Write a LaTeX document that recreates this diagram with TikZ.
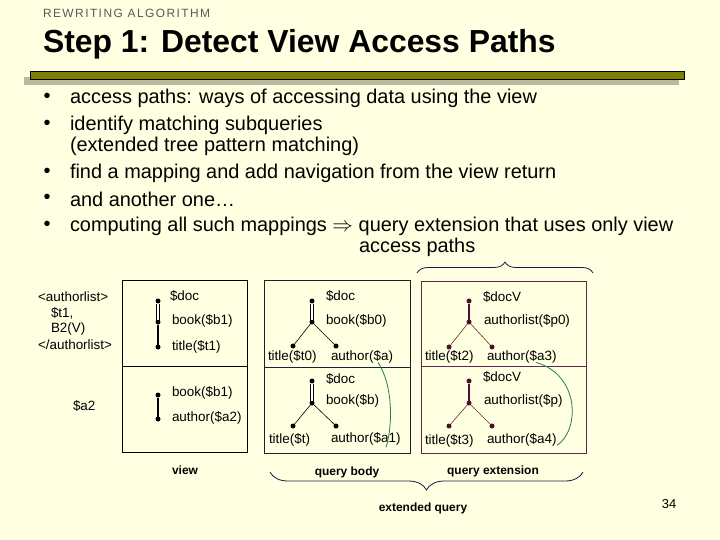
\documentclass[tikz,border=0pt]{standalone}
\usepackage{fontspec}
\setmainfont{Liberation Sans}
\usetikzlibrary{decorations.pathreplacing}
\definecolor{bgcol}{RGB}{255,255,225}
\definecolor{barcol}{RGB}{128,128,0}
\definecolor{shadowcol}{RGB}{185,185,160}
\definecolor{hdrcol}{RGB}{90,90,90}
\definecolor{maroon}{RGB}{75,15,45}
\definecolor{mline}{RGB}{110,50,40}
\definecolor{boxq}{RGB}{30,30,50}
\definecolor{boxe}{RGB}{90,40,80}
\definecolor{teal}{RGB}{40,120,100}
\definecolor{bracecol}{RGB}{25,25,70}
\begin{document}
\begin{tikzpicture}[x=1bp,y=-1bp,every node/.style={inner sep=0pt,outer sep=0pt},
  dot/.style={circle,fill=black,minimum size=5bp,inner sep=0pt},
  mdot/.style={dot,fill=maroon},
  lbl/.style={anchor=west,font=\fontsize{13.5}{15}\selectfont},
  bul/.style={anchor=west,font=\fontsize{20}{24}\selectfont},
  capt/.style={font=\bfseries\fontsize{12}{14}\selectfont},
  dbl/.style={double,double distance=2bp,line width=1bp},
  sgl/.style={line width=1.4bp},
  thinl/.style={line width=0.6bp},
  link/.style={teal,line width=0.8bp},
  bracedeco/.style={bracecol,line width=0.8bp,decorate}]
\fill[bgcol] (0,0) rectangle (720,540);
\useasboundingbox (0,0) rectangle (720,540);
% header
\node[anchor=west,font=\fontsize{12}{14}\selectfont\addfontfeatures{LetterSpace=12},text=hdrcol] (hdr) at (43,13) {REWRITING ALGORITHM};
\node[anchor=west,font=\bfseries\fontsize{32}{36}\selectfont] (title) at (43,44) {Step 1: Detect View Access Paths};
\fill[shadowcol] (24,77) rectangle (679,85);
\draw[fill=barcol,line width=0.9bp] (30,71) rectangle (684,79);
% bullets
\foreach \y/\t in {98/{access paths: ways of accessing data using the view},
                   125/{identify matching subqueries},
                   173/{find a mapping and add navigation from the view return},
                   199/{and another one\ldots},
                   226/{computing all such mappings $\Rightarrow$ query extension that uses only view}}{
  \node[bul] at (43.5,\y) {\textbullet};
  \node[bul] at (70,\y) {\t};
}
\node[bul] (b2b) at (70,146) {(extended tree pattern matching)};
\node[bul] (b5b) at (359,247) {access paths};
% left texts
\node[lbl] (al1) at (38,297) {<authorlist>};
\node[lbl] (al2) at (51,313) {\$t1,};
\node[lbl] (al3) at (51,329) {B2(V)};
\node[lbl] (al4) at (38,345) {</authorlist>};
\node[lbl] (a2) at (73,406) {\$a2};
% boxes
\draw[line width=0.8bp] (122,280) rectangle (247,452);
\draw[line width=0.8bp] (122,366) -- (247,366);
\draw[boxq,line width=0.8bp] (264,280) rectangle (410,453);
\draw[boxq,line width=0.8bp] (264,367) -- (410,367);
\draw[boxe,line width=0.8bp] (421,281) rectangle (586,453);
\draw[boxe,line width=0.8bp] (421,366) -- (586,366);
% view tree 1
\node[dot] (v1) at (158,301) {};
\node[dot] (v2) at (158,322) {};
\node[dot] (v3) at (158,347) {};
\draw[dbl] (v1) -- (v2);
\draw[sgl] (v2) -- (v3);
\node[lbl] at (170,296) {\$doc};
\node[lbl] at (172,321) {book(\$b1)};
\node[lbl] at (172,347) {title(\$t1)};
% view tree 2
\node[dot] (v4) at (158,395) {};
\node[dot] (v5) at (158,419) {};
\draw[sgl] (v4) -- (v5);
\node[lbl] at (172,393) {book(\$b1)};
\node[lbl] at (172,418) {author(\$a2)};
\node[capt] (view) at (185,470) {view};
% query body tree 1
\node[dot] (q1) at (312,301) {};
\node[dot] (q2) at (312,322) {};
\node[dot] (q3) at (293,346) {};
\node[dot] (q4) at (336,346) {};
\draw[dbl] (q1) -- (q2);
\draw[thinl] (q2) -- (q3);
\draw[thinl] (q2) -- (q4);
\node[lbl] at (326,296) {\$doc};
\node[lbl] at (326,321) {book(\$b0)};
\node[lbl] (qt0) at (268,357) {title(\$t0)};
\node[lbl] (qa) at (331,357) {author(\$a)};
% query body tree 2
\node[dot] (q5) at (312,381) {};
\node[dot] (q6) at (312,403) {};
\node[dot] (q7) at (293,426) {};
\node[dot] (q8) at (336,426) {};
\draw[dbl] (q5) -- (q6);
\draw[thinl] (q6) -- (q7);
\draw[thinl] (q6) -- (q8);
\node[lbl] at (326,379) {\$doc};
\node[lbl] at (326,401) {book(\$b)};
\node[lbl] (qt) at (269,440) {title(\$t)};
\node[lbl] (qa1) at (331,439) {author(\$a1)};
% extension tree 1
\node[mdot] (e1) at (469,301) {};
\node[mdot] (e2) at (469,322) {};
\node[mdot] (e3) at (449,347) {};
\node[mdot] (e4) at (492,347) {};
\draw[sgl,maroon] (e1) -- (e2);
\draw[thinl,mline] (e2) -- (e3);
\draw[thinl,mline] (e2) -- (e4);
\node[lbl] at (483,297) {\$docV};
\node[lbl] at (484,321) {authorlist(\$p0)};
\node[lbl] (et2) at (425,357) {title(\$t2)};
\node[lbl] (ea3) at (487,357) {author(\$a3)};
% extension tree 2
\node[mdot] (e5) at (469,381) {};
\node[mdot] (e6) at (469,403) {};
\node[mdot] (e7) at (449,426) {};
\node[mdot] (e8) at (492,426) {};
\draw[sgl,maroon] (e5) -- (e6);
\draw[thinl,mline] (e6) -- (e7);
\draw[thinl,mline] (e6) -- (e8);
\node[lbl] at (483,377) {\$docV};
\node[lbl] at (484,401) {authorlist(\$p)};
\node[lbl] (et3) at (425,441) {title(\$t3)};
\node[lbl] (ea4) at (487,440) {author(\$a4)};
% mapping curves
\draw[link] ([xshift=47bp,yshift=1bp]qa.south west) .. controls (393,385) and (393,425) .. ([xshift=55bp,yshift=-2bp]qa1.south west);
\draw[link] ([xshift=49bp,yshift=1bp]ea3.south west) .. controls (580,375) and (580,430) .. ([xshift=70bp,yshift=1bp]ea4.south west);
% braces
\draw[bracedeco,decoration={brace,amplitude=11bp}] (417,273) -- (593,273);
\draw[bracedeco,decoration={brace,amplitude=18bp}] (583,472) -- (270,472);
\node[capt] (qbody) at (347,472) {query body};
\node[capt] (qext) at (493,471) {query extension};
\node[capt] (extq) at (423,508) {extended query};
\node[font=\fontsize{13}{15}\selectfont] (pg) at (669,504) {34};
\end{tikzpicture}
\end{document}
